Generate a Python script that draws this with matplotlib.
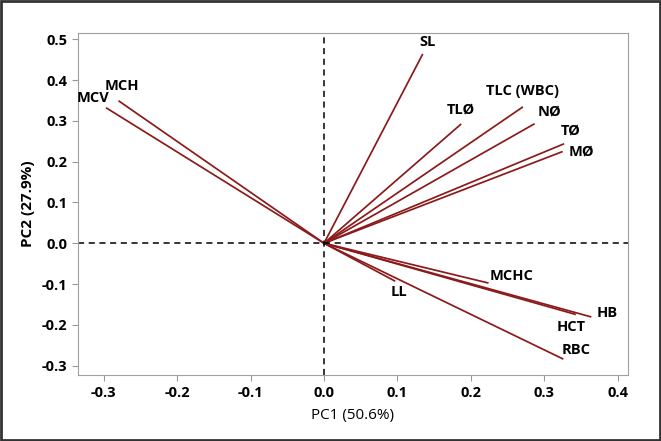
import matplotlib
matplotlib.use("Agg")
import matplotlib.pyplot as plt
from matplotlib.patches import Rectangle

plt.rcParams['font.family'] = ['Open Sans', 'DejaVu Sans']

# loadings
names = ['MCV', 'MCH', 'SL', 'TLØ', 'TLC (WBC)', 'NØ', 'TØ', 'MØ',
         'MCHC', 'LL', 'HB', 'HCT', 'RBC']
pc1 = [-0.296, -0.279, 0.134, 0.186, 0.270, 0.286, 0.326, 0.324,
       0.223, 0.096, 0.363, 0.342, 0.325]
pc2 = [0.331, 0.348, 0.462, 0.291, 0.333, 0.292, 0.243, 0.224,
       -0.097, -0.092, -0.180, -0.174, -0.283]
# label offsets in points (dx, dy)
offsets = [(-10, 7), (2, 11), (4, 9), (0, 11), (0, 12), (11, 9), (5, 10), (14, 0),
           (17, 5), (3, -8), (12, 3), (-3, -9), (10, 6)]

fig = plt.figure(figsize=(6.61, 4.41), dpi=100)
ax = fig.add_axes([0.1174, 0.149, 0.8322, 0.7769])

for x, y in zip(pc1, pc2):
    ax.plot([0, x], [0, y], color='#8b1a1a', lw=1.25)

for n, x, y, (dx, dy) in zip(names, pc1, pc2, offsets):
    ax.annotate(n, (x, y), xytext=(dx, dy), textcoords='offset points',
                ha='center', va='center', fontsize=10.5, fontweight='bold')

ax.axhline(0, color='black', ls=(0, (4, 3)), lw=1.1)
ax.axvline(0, color='black', ls=(0, (4, 3)), lw=1.1)

ax.set_xlim(-0.3357, 0.4137)
ax.set_ylim(-0.3235, 0.516)
ax.set_xticks([-0.3, -0.2, -0.1, 0.0, 0.1, 0.2, 0.3, 0.4])
ax.set_yticks([-0.3, -0.2, -0.1, 0.0, 0.1, 0.2, 0.3, 0.4, 0.5])
ax.xaxis.set_major_formatter(matplotlib.ticker.FormatStrFormatter('%.1f'))
ax.yaxis.set_major_formatter(matplotlib.ticker.FormatStrFormatter('%.1f'))
ax.tick_params(colors='#999999', labelcolor='black', labelsize=10.5, length=4)
for lab in ax.get_xticklabels() + ax.get_yticklabels():
    lab.set_fontweight('bold')
for s in ax.spines.values():
    s.set_color('#a0a0a0')

ax.set_xlabel('PC1 (50.6%)', fontsize=11, labelpad=6)
ax.set_ylabel('PC2 (27.9%)', fontsize=11, fontweight='bold', labelpad=5)

fig.patches.append(Rectangle((0.002, 0.002), 0.996, 0.996, transform=fig.transFigure,
                             fill=False, edgecolor='#333333', lw=2))

fig.savefig('out.png', dpi=100)
